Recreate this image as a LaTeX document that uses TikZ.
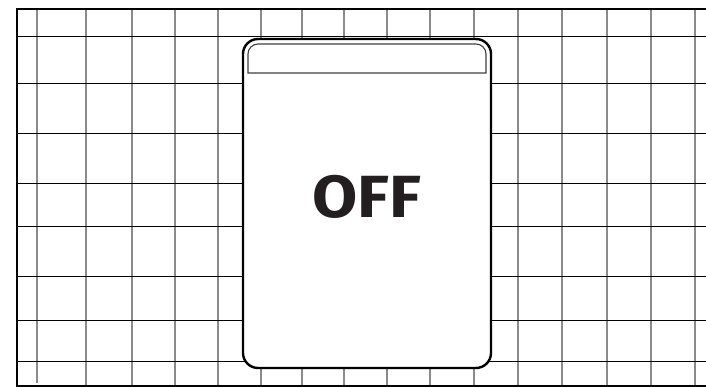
\documentclass[tikz,border=0pt]{standalone}
\usepackage{fontspec}
\setsansfont{Fira Sans}
\usepackage{xcolor}
\usetikzlibrary{calc, positioning}

\definecolor{vachke}{HTML}{8A8A8A}
\definecolor{chudam}{HTML}{231F20}

\begin{document}
\begin{tikzpicture}[x=1pt, y=-1pt,
    khung/.style={line width=2.8pt, black},
    ketdoc/.style={line width=1.5pt, vachke},
    kengang/.style={line width=1pt, black},
    thevien/.style={line width=2.4pt, black, fill=white},
    thedau/.style={line width=1.1pt, black!75}]

    % =================================================================
    % 1. KHUNG GIOI HAN CUA HINH
    % =================================================================
    \useasboundingbox (0,0) rectangle (706,387);

    \coordinate (TheTrenTrai) at (243,39);
    \coordinate (TheDuoiPhai) at (491,368);

    % =================================================================
    % 2. LUOI KE O (NET DOC XAM, NET NGANG DEN)
    % =================================================================
    \draw[ketdoc] (37,9) -- (37,383);
    \foreach \x in {86,132,175,218,261,302,344,387,430,474,518,562,607,651,695}
        \draw[ketdoc] (\x,9) -- (\x,386);
    \foreach \y in {37,84,134,184,227,276,320,361}
        \draw[kengang] (17,\y) -- (706,\y);

    % Vien ngoai (tren, trai, duoi)
    \draw[khung] (706,9) -- (17,9) -- (17,386) -- (706,386);

    % =================================================================
    % 3. TAM THE "OFF" BO GOC
    % =================================================================
    \draw[thevien, rounded corners=15pt] (TheTrenTrai) rectangle (TheDuoiPhai);

    % Dai tieu de phia tren cua the
    \draw[thedau] (486,60) -- (486,73) -- (248,73) -- (248,60)
        [rounded corners=10pt] |- (367,44) -| (486,60);

    % =================================================================
    % 4. CHU TREN THE
    % =================================================================
    \node[text=chudam, font=\sffamily\bfseries\fontsize{59.5}{60}\selectfont,
        inner sep=0pt] (nhanoff) at ($(TheTrenTrai)!0.5!(TheDuoiPhai)+(0,-6.5)$)
        {\scalebox{1.1}[1]{OFF}};

\end{tikzpicture}
\end{document}
